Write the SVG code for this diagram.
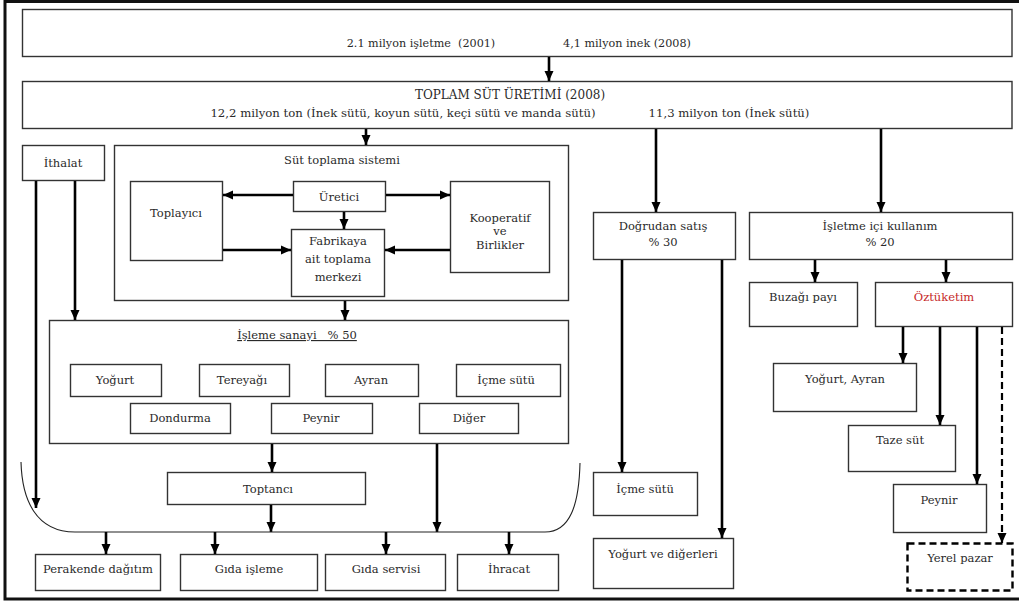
<svg xmlns="http://www.w3.org/2000/svg" width="1019" height="603" viewBox="0 0 1019 603">
<defs>
<marker id="ah" markerUnits="userSpaceOnUse" markerWidth="10" markerHeight="10" refX="10" refY="5" orient="auto">
<path d="M0,0.5 L10,5 L0,9.5 z" fill="#000"/>
</marker>
<style>
.b{fill:#fff;stroke:#333;stroke-width:1.4}
.d{fill:#fff;stroke:#000;stroke-width:2.4;stroke-dasharray:7,4}
.t{font-size:11.5px;fill:#2a2a2a;text-anchor:middle}
.a{fill:none;stroke:#000;stroke-width:2.6;marker-end:url(#ah)}
.ad{fill:none;stroke:#000;stroke-width:2.2;stroke-dasharray:7,4;marker-end:url(#ah)}
.c{fill:none;stroke:#222;stroke-width:1.1}
</style>
</defs>
<rect x="0" y="0" width="1019" height="603" fill="#fff"/>
<rect x="5" y="1.5" width="1025" height="597.5" fill="none" stroke="#111" stroke-width="3"/>
<g font-family="DejaVu Serif, serif" style="font-family:'DejaVu Serif',serif">
<g id="top">
<rect class="b" x="22.5" y="9.5" width="989.5" height="47"/>
<text class="t" x="421" y="47" style="font-size:11.2px">2.1 milyon işletme&#160; (2001)</text>
<text class="t" x="627" y="47" style="font-size:11.2px">4,1 milyon inek (2008)</text>
</g>
<g id="toplam">
<rect class="b" x="22.5" y="81.5" width="989.5" height="47"/>
<text class="t" x="510" y="99" style="font-size:12px">TOPLAM SÜT ÜRETİMİ (2008)</text>
<text class="t" x="403" y="117" style="font-size:11.7px">12,2 milyon ton (İnek sütü, koyun sütü, keçi sütü ve manda sütü)</text>
<text class="t" x="729" y="117" style="font-size:11.7px">11,3 milyon ton (İnek sütü)</text>
</g>
<g id="ithalat">
<rect class="b" x="22.5" y="145.5" width="82" height="35"/>
<text class="t" x="63" y="167">İthalat</text>
</g>
<g id="sut-toplama">
<rect class="b" x="114.5" y="145.5" width="454" height="155"/>
<text class="t" x="342" y="164">Süt toplama sistemi</text>
</g>
<g id="toplayici">
<rect class="b" x="130.5" y="181.5" width="92" height="79"/>
<text class="t" x="176" y="217">Toplayıcı</text>
</g>
<g id="uretici">
<rect class="b" x="293.5" y="181.5" width="92" height="30"/>
<text class="t" x="339" y="201">Üretici</text>
</g>
<g id="kooperatif">
<rect class="b" x="450.5" y="181.5" width="99" height="91"/>
<text class="t" x="500" y="222">Kooperatif</text>
<text class="t" x="500" y="235">ve</text>
<text class="t" x="500" y="249">Birlikler</text>
</g>
<g id="fabrikaya">
<rect class="b" x="291.5" y="229.5" width="93" height="67"/>
<text class="t" x="338" y="245">Fabrikaya</text>
<text class="t" x="338" y="263">ait toplama</text>
<text class="t" x="338" y="281">merkezi</text>
</g>
<g id="isleme-sanayi">
<rect class="b" x="49.5" y="320.5" width="519" height="123"/>
<text class="t" x="297" y="339" style="text-decoration:underline">İşleme sanayi&#160;&#160; % 50</text>
</g>
<g id="yogurt"><rect class="b" x="70.5" y="364.5" width="91" height="32"/><text class="t" x="115" y="384">Yoğurt</text></g>
<g id="tereyagi"><rect class="b" x="199.5" y="364.5" width="90" height="32"/><text class="t" x="242" y="384">Tereyağı</text></g>
<g id="ayran"><rect class="b" x="325.5" y="364.5" width="93" height="32"/><text class="t" x="371" y="384">Ayran</text></g>
<g id="icme-sutu-1"><rect class="b" x="456.5" y="364.5" width="104" height="32"/><text class="t" x="506" y="384">İçme sütü</text></g>
<g id="dondurma"><rect class="b" x="130.5" y="403.5" width="100" height="30"/><text class="t" x="180" y="422">Dondurma</text></g>
<g id="peynir-1"><rect class="b" x="271.5" y="403.5" width="101" height="30"/><text class="t" x="321" y="422">Peynir</text></g>
<g id="diger"><rect class="b" x="419.5" y="403.5" width="99" height="30"/><text class="t" x="469" y="422">Diğer</text></g>
<g id="toptanci">
<rect class="b" x="167.5" y="472.5" width="198" height="32"/>
<text class="t" x="268" y="493">Toptancı</text>
</g>
<g id="perakende"><rect class="b" x="35.5" y="554.5" width="125" height="36"/><text class="t" x="98" y="573">Perakende dağıtım</text></g>
<g id="gida-isleme"><rect class="b" x="180.5" y="554.5" width="137" height="36"/><text class="t" x="249" y="573">Gıda işleme</text></g>
<g id="gida-servisi"><rect class="b" x="325.5" y="554.5" width="120" height="36"/><text class="t" x="386" y="573">Gıda servisi</text></g>
<g id="ihracat"><rect class="b" x="457.5" y="554.5" width="101" height="36"/><text class="t" x="509" y="573">İhracat</text></g>

<g id="dogrudan">
<rect class="b" x="593.5" y="212.5" width="142" height="47"/>
<text class="t" x="663" y="230">Doğrudan satış</text>
<text class="t" x="663" y="246">% 30</text>
</g>
<g id="icme-sutu-2"><rect class="b" x="593.5" y="472.5" width="104" height="43"/><text class="t" x="645" y="493">İçme sütü</text></g>
<g id="yogurt-digerleri"><rect class="b" x="593.5" y="538.5" width="140" height="50"/><text class="t" x="663" y="558">Yoğurt ve diğerleri</text></g>
<g id="isletme-ici">
<rect class="b" x="749.5" y="212.5" width="263" height="47"/>
<text class="t" x="880" y="230">İşletme içi kullanım</text>
<text class="t" x="880" y="246">% 20</text>
</g>
<g id="buzagi"><rect class="b" x="749.5" y="282.5" width="108" height="44"/><text class="t" x="803" y="301">Buzağı payı</text></g>
<g id="oztuketim"><rect class="b" x="875.5" y="282.5" width="137" height="44"/><text class="t" x="944" y="301" style="fill:#c62828">Öztüketim</text></g>
<g id="yogurt-ayran"><rect class="b" x="773.5" y="363.5" width="143" height="48"/><text class="t" x="845" y="383">Yoğurt, Ayran</text></g>
<g id="taze-sut"><rect class="b" x="848.5" y="425.5" width="107" height="46"/><text class="t" x="900" y="444">Taze süt</text></g>
<g id="peynir-2"><rect class="b" x="893.5" y="484.5" width="93" height="48"/><text class="t" x="939" y="504">Peynir</text></g>
<g id="yerel-pazar"><rect class="d" x="907.5" y="543.5" width="105" height="47"/><text class="t" x="960" y="562">Yerel pazar</text></g>
</g>
<g id="connectors">
<path class="a" d="M549,57 V81"/>
<path class="a" d="M366,129 V145"/>
<path class="a" d="M656,129 V212"/>
<path class="a" d="M881,129 V212"/>
<path class="a" d="M36,181 V508"/>
<path class="a" d="M75,181 V320"/>
<path class="a" d="M293,195 H223"/>
<path class="a" d="M386,195 H450"/>
<path class="a" d="M344,212 V229"/>
<path class="a" d="M223,250 H291"/>
<path class="a" d="M450,250 H385"/>
<path class="a" d="M345,301 V320"/>
<path class="a" d="M272,444 V472"/>
<path class="a" d="M437,444 V532"/>
<path class="a" d="M271,505 V532"/>
<path class="c" d="M21,462 C22,500 36,532 75,532 L545,532 C570,532 579,505 580,463"/>
<path class="a" d="M106,532 V554"/>
<path class="a" d="M215,532 V554"/>
<path class="a" d="M386,532 V554"/>
<path class="a" d="M509,532 V554"/>
<path class="a" d="M622,260 V472"/>
<path class="a" d="M722,260 V538"/>
<path class="a" d="M815,260 V282"/>
<path class="a" d="M946,260 V282"/>
<path class="a" d="M903,327 V363"/>
<path class="a" d="M940,327 V425"/>
<path class="a" d="M977,327 V484"/>
<path class="ad" d="M1002,327 V543"/>
</g>
</svg>
